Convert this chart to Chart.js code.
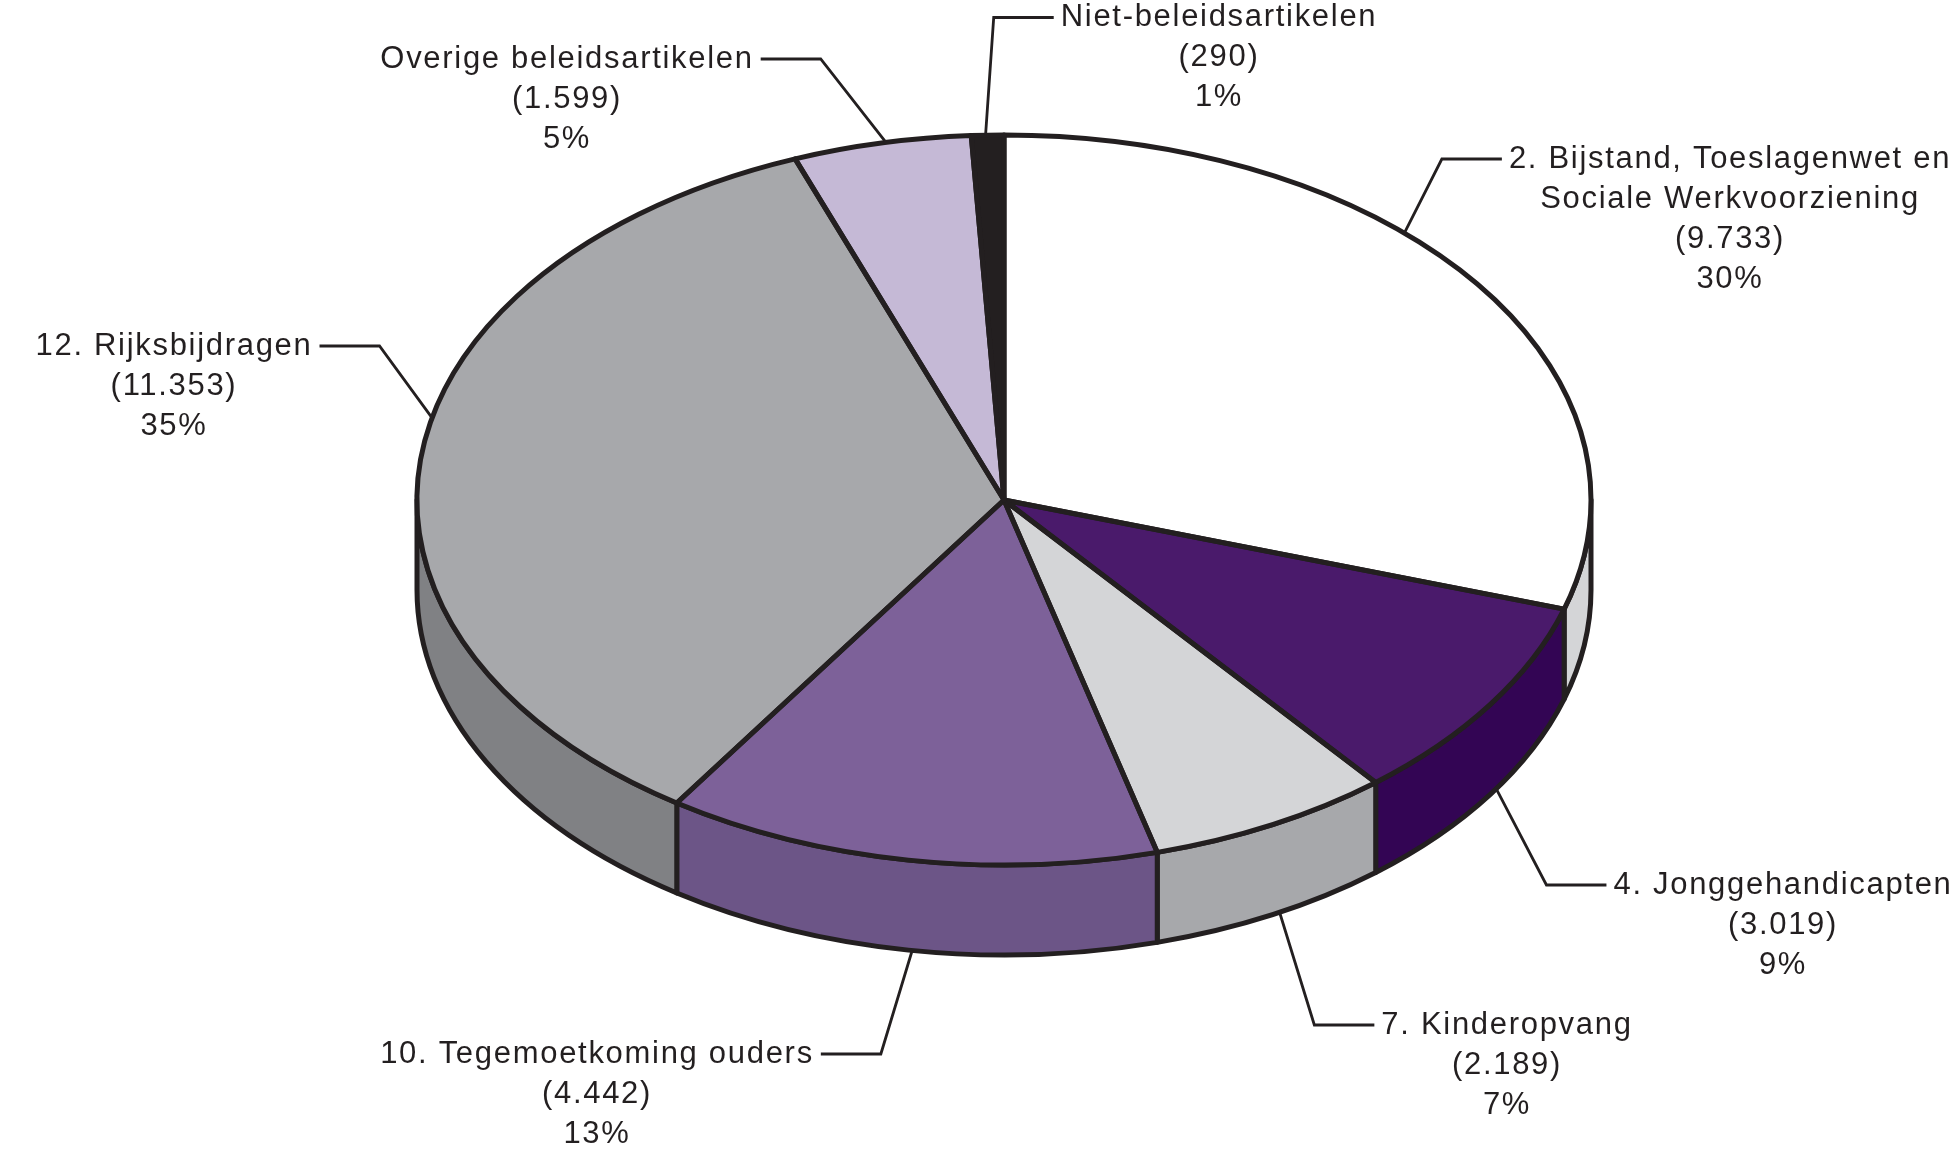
<!DOCTYPE html>
<html lang="nl">
<head>
  <meta charset="UTF-8">
  <title>Uitgaven per artikel</title>
  <script src="https://cdn.jsdelivr.net/npm/chart.js"></script>
  <style>
    body {
      margin: 0;
      padding: 0;
      background: #fff;
    }
    .wrap {
      width: 1960px;
      height: 1152px;
      position: relative;
    }
  </style>
</head>
<body>
  <div class="wrap"><canvas id="pie3d"></canvas></div>
  <script>
    // data (mln euro)
    const categories = [
      "2. Bijstand, Toeslagenwet en\nSociale Werkvoorziening",
      "4. Jonggehandicapten",
      "7. Kinderopvang",
      "10. Tegemoetkoming ouders",
      "12. Rijksbijdragen",
      "Overige beleidsartikelen",
      "Niet-beleidsartikelen"
    ];
    const values = [9733, 3019, 2189, 4442, 11353, 1599, 290];
    const percents = ["30%", "9%", "7%", "13%", "35%", "5%", "1%"];

    const topColors = ["#ffffff", "#4a1a6b", "#d4d5d7", "#7d6199", "#a7a8ab", "#c5b9d6", "#231f20"];
    const sideColors = ["#d4d5d7", "#330554", "#a7a8ab", "#6c5587", "#808184", "#a99cbd", "#000000"];

    // ellipse geometry of the 3d pie
    const CX = 1004, CY = 500, RX = 587, RY = 365, DEPTH = 90;
    const INK = "#231f20";

    // where each label block sits (center x, first line y), which side the leader leaves,
    // and where it touches the pie (angle on ellipse, top face or bottom rim)
    const labelPos = [
      { cx: 1730, y: 159, side: "left", deg: -47, bottom: false },
      { cx: 1783, y: 885, side: "left", deg: 33, bottom: true },
      { cx: 1507, y: 1025, side: "left", deg: 62, bottom: true },
      { cx: 597, y: 1054, side: "right", deg: 99, bottom: true },
      { cx: 174, y: 346, side: "right", deg: 193, bottom: false },
      { cx: 567, y: 59, side: "right", deg: 258.4, bottom: false },
      { cx: 1219, y: 17.5, side: "left", deg: -91.8, bottom: false }
    ];

    function fmt(v) {
      return String(v).replace(/\B(?=(\d{3})+(?!\d))/g, ".");
    }

    const pie3d = {
      id: 'pie3d',
      beforeDatasetsDraw(chart) {
        const ctx = chart.ctx;
        const arcs = chart.getDatasetMeta(0).data;
        // side walls (front half only)
        ctx.save();
        ctx.lineWidth = 5;
        ctx.lineJoin = 'round';
        ctx.strokeStyle = INK;
        arcs.forEach((a, i) => {
          const a0 = Math.max(a.startAngle, 0);
          const a1 = Math.min(a.endAngle, Math.PI);
          if (a1 <= a0) return;
          ctx.beginPath();
          ctx.ellipse(CX, CY, RX, RY, 0, a0, a1, false);
          ctx.lineTo(CX + RX * Math.cos(a1), CY + RY * Math.sin(a1) + DEPTH);
          ctx.ellipse(CX, CY + DEPTH, RX, RY, 0, a1, a0, true);
          ctx.closePath();
          ctx.fillStyle = sideColors[i];
          ctx.fill();
          ctx.stroke();
        });
        ctx.restore();
        // squash the library's circle into the top ellipse
        const a = arcs[0];
        const R = a.outerRadius;
        ctx.save();
        ctx.translate(CX, CY);
        ctx.scale(RX / R, RY / R);
        ctx.translate(-a.x, -a.y);
      },
      afterDatasetsDraw(chart) {
        const ctx = chart.ctx;
        ctx.restore();
        const arcs = chart.getDatasetMeta(0).data;
        ctx.save();
        ctx.lineWidth = 5;
        ctx.lineJoin = 'round';
        ctx.strokeStyle = INK;
        arcs.forEach(a => {
          ctx.beginPath();
          ctx.moveTo(CX, CY);
          ctx.ellipse(CX, CY, RX, RY, 0, a.startAngle, a.endAngle, false);
          ctx.closePath();
          ctx.stroke();
        });
        ctx.restore();
      },
      afterDraw(chart) {
        const ctx = chart.ctx;
        ctx.save();
        ctx.font = '31px "Liberation Sans", Arial, sans-serif';
        ctx.letterSpacing = '1.7px';
        ctx.fillStyle = INK;
        ctx.strokeStyle = INK;
        ctx.lineWidth = 2.8;
        ctx.textAlign = 'center';
        ctx.textBaseline = 'middle';
        categories.forEach((name, i) => {
          const p = labelPos[i];
          const lines = name.split("\n").concat(["(" + fmt(values[i]) + ")", percents[i]]);
          lines.forEach((t, k) => ctx.fillText(t, p.cx, p.y + k * 40));
          // leader
          const w = ctx.measureText(lines[0]).width;
          const dir = p.side === "left" ? -1 : 1;
          const x0 = p.cx + dir * (w / 2 + 7);
          const x1 = x0 + dir * 60;
          const rad = p.deg * Math.PI / 180;
          const ax = CX + RX * Math.cos(rad);
          const ay = CY + RY * Math.sin(rad) + (p.bottom ? DEPTH : 0);
          ctx.beginPath();
          ctx.moveTo(x0, p.y);
          ctx.lineTo(x1, p.y);
          ctx.lineTo(ax, ay);
          ctx.stroke();
        });
        ctx.restore();
      }
    };

    new Chart(document.getElementById('pie3d'), {
      type: 'pie',
      data: {
        labels: categories,
        datasets: [{
          data: values,
          backgroundColor: topColors,
          borderWidth: 0,
          clip: false
        }]
      },
      options: {
        responsive: true,
        maintainAspectRatio: false,
        animation: false,
        events: [],
        plugins: {
          legend: { display: false },
          tooltip: { enabled: false }
        }
      },
      plugins: [pie3d]
    });
  </script>
</body>
</html>
